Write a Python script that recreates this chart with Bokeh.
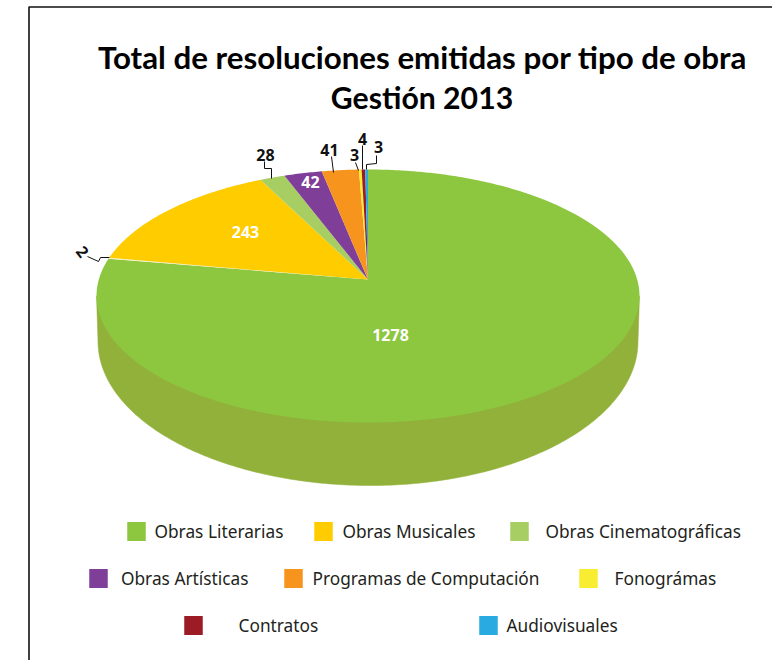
import numpy as np
from bokeh.plotting import figure
from bokeh.core.properties import value
from bokeh.embed import file_html
from bokeh.resources import INLINE

# ---- data
title_lines = ["Total de resoluciones emitidas por tipo de obra", "Gestión 2013"]
categories = ["Obras Literarias", "(sin leyenda)", "Obras Musicales", "Obras Cinematográficas",
              "Obras Artísticas", "Programas de Computación", "Fonográmas", "Contratos", "Audiovisuales"]
values = [1278, 2, 243, 28, 42, 41, 3, 4, 3]
colors = ["#8dc63f", "#f4f1c6", "#ffcc00", "#a6ce63", "#7f3f98", "#f7941e", "#f9ed32", "#9b1c24", "#29abe2"]
legend_names = ["Obras Literarias", "Obras Musicales", "Obras Cinematográficas",
                "Obras Artísticas", "Programas de Computación", "Fonográmas",
                "Contratos", "Audiovisuales"]
legend_colors = ["#8dc63f", "#ffcc00", "#a6ce63", "#7f3f98", "#f7941e", "#f9ed32", "#9b1c24", "#29abe2"]

# ---- layout (page pixels)
W, H = 772, 660
CX, CY, RX, RY, TILT = 367.5, 295.5, 271.5, 126.5, 0.13   # perspective disc
BX, BY, BRX_L, BRX_R, BRY = 370, 341, 272.5, 267.5, 144   # lower edge of the side
SIDE = "#92b13b"
swatch_x = [127, 314, 510, 89, 284, 579, 184, 479]
swatch_y = [531, 531, 531, 578, 578, 578, 625, 625]
text_y = [531, 531, 531, 578, 578, 578, 625, 625]
legend_x = [154, 342, 545, 120.5, 312, 614, 238, 506]
legend_size = "17.3px"
white_lbl = [(390, 334, "1278"), (245, 231, "243"), (310, 181, "42")]
black_lbl = [(265, 154, "28"), (329, 149, "41"), (354, 154, "3"), (362, 138, "4"), (378, 146, "3")]
leaders = [[(271, 178), (271, 168), (264, 168), (264, 161)],
           [(333, 172), (331, 156)],
           [(358, 170), (355, 162)],
           [(362, 169), (362, 145)],
           [(366, 169), (366, 164), (376, 163), (376, 155)],
           [(109, 257), (100, 257), (98, 261), (87, 256)]]


def rim(frac):
    """Map a fraction of the turn (clockwise from 12 o'clock) to the tilted disc."""
    t = 2 * np.pi * np.asarray(frac)
    x, y = np.sin(t), np.cos(t)
    d = 1 + TILT * y
    return CX + RX * x * np.sqrt(1 - TILT ** 2) / d, CY - RY * (y + TILT) / d


p = figure(width=W, height=H, x_range=(0, W), y_range=(H, 0), x_axis_type=None, y_axis_type=None,
           toolbar_location=None, output_backend="svg", min_border=0, outline_line_color=None,
           background_fill_color="white", border_fill_color="white")
p.styles = {"position": "absolute", "left": "0px", "top": "0px"}
p.grid.visible = False

# frame
p.line([W, 28.5, 28.5], [6.5, 6.5, H], line_color="#111111", line_width=1.6)

# side of the disc
t = np.linspace(0, np.pi, 200)
c = np.cos(t)
sx = np.r_[CX + RX, BX + np.where(c > 0, BRX_R, BRX_L) * c, CX - RX]
sy = np.r_[CY, BY + BRY * np.sin(t), CY]
p.patch(sx, sy, fill_color=SIDE, line_color=SIDE, line_width=0.5)

# top of the disc, one polygon per value
cum = np.cumsum([0] + values) / sum(values)
apex_x, apex_y = CX, CY - RY * TILT
xs, ys = [], []
for a, b in zip(cum[:-1], cum[1:]):
    rx_, ry_ = rim(np.linspace(a, b, max(3, int((b - a) * 720))))
    xs.append(np.r_[apex_x, rx_])
    ys.append(np.r_[apex_y, ry_])
p.patches(xs, ys, fill_color=colors, line_color=None)

# leaders
for pts in leaders:
    p.line([q[0] for q in pts], [q[1] for q in pts], line_color="#111111", line_width=1)

# labels
bold = value("Open Sans")
p.text([q[0] for q in white_lbl], [q[1] for q in white_lbl], text=[q[2] for q in white_lbl],
       text_color="white", text_font=bold, text_font_style="bold", text_font_size="16px",
       text_align="center", text_baseline="middle")
p.text([q[0] for q in black_lbl], [q[1] for q in black_lbl], text=[q[2] for q in black_lbl],
       text_color="#111111", text_font=bold, text_font_style="bold", text_font_size="16px",
       text_align="center", text_baseline="middle")
p.text([82], [251], text=[str(values[1])], angle=[-0.9], text_color="#111111", text_font=bold,
       text_font_style="bold", text_font_size="16px", text_align="center", text_baseline="middle")

# title
p.text([422], [56], text=title_lines[:1], text_color="black", text_font=value("Lato"),
       text_font_style="bold", text_font_size="31.3px", text_align="center", text_baseline="middle")
p.text([421.5], [96], text=title_lines[1:], text_color="black", text_font=value("Lato"),
       text_font_style="bold", text_font_size="30.2px", text_align="center", text_baseline="middle")

# legend
p.rect([x + 9 for x in swatch_x], swatch_y, width=18.5, height=19, fill_color=legend_colors, line_color=None)
p.text(legend_x, text_y, text=legend_names, text_color="#231f20", text_font=value("Noto Sans"),
       text_font_size=legend_size, text_align="left", text_baseline="middle")

open("out.html", "w").write(file_html(p, INLINE))
